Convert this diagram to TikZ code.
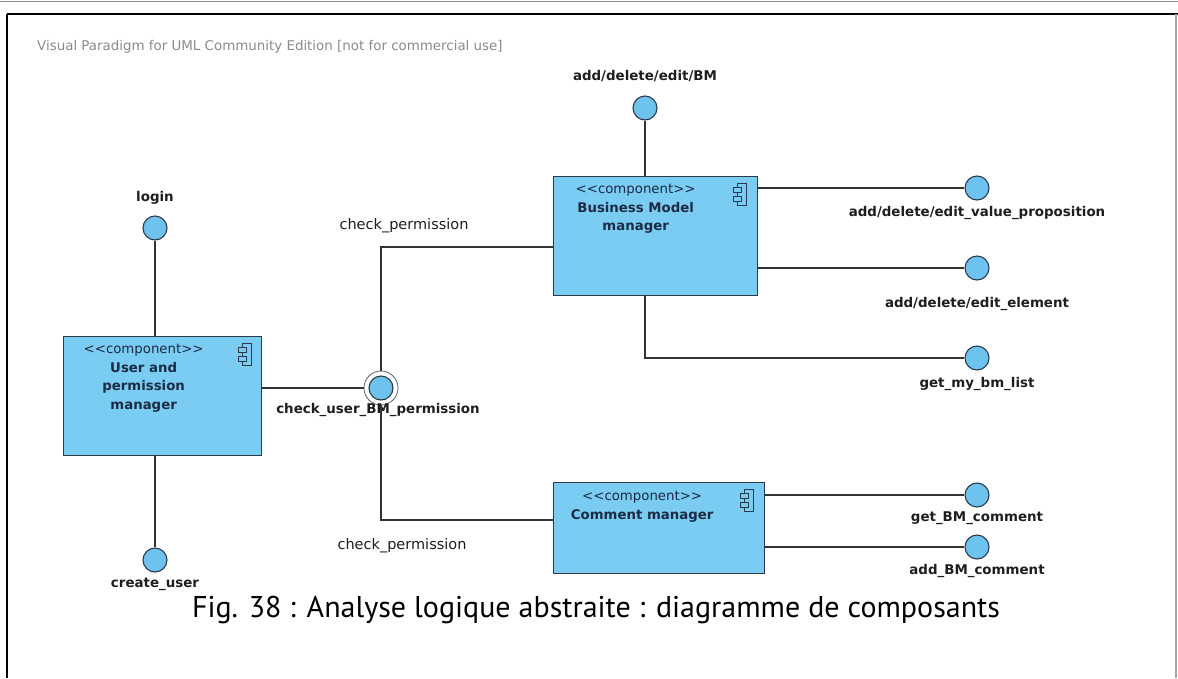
\documentclass[tikz,border=0pt]{standalone}
\usepackage{fontspec}
\setmainfont{DejaVu Sans}
\newfontfamily\capfont{PT Sans}
\usetikzlibrary{calc}
\definecolor{compfill}{HTML}{7ACCF2}
\definecolor{compline}{HTML}{2B3A4A}
\definecolor{ballfill}{HTML}{6EC3EE}
\definecolor{labeltext}{HTML}{1E1E1E}
\definecolor{comptext}{HTML}{1B2B44}
\definecolor{markgray}{HTML}{8A8A8A}
\newcommand{\stereo}{{<}{<}component{>}{>}}
\begin{document}
\begin{tikzpicture}[x=1pt,y=-1pt,
  comp/.style={draw=compline, line width=1.3pt, fill=compfill, inner sep=0pt, anchor=north west},
  comptxt/.style={anchor=north, align=center, inner sep=0pt, text=comptext,
    font=\fontsize{13.3}{18.5}\selectfont},
  ball/.style={circle, draw=compline, line width=1.1pt, fill=ballfill, minimum size=24pt, inner sep=0pt},
  socket/.style={circle, draw=compline!80, line width=0.8pt, fill=white, minimum size=34pt, inner sep=0pt},
  lbl/.style={font=\fontsize{13.4}{15}\selectfont\bfseries, text=labeltext, inner sep=1pt},
  plain/.style={font=\fontsize{14.5}{16}\selectfont, text=labeltext, inner sep=1pt},
  wire/.style={draw=black!80, line width=1.1pt},
  compicon/.pic={
    \draw[compline, line width=0.9pt, fill=compfill] (-3,-11) rectangle (6,11);
    \draw[compline, line width=0.9pt, fill=compfill] (-7,-7) rectangle (1,-2);
    \draw[compline, line width=0.9pt, fill=compfill] (-7,2) rectangle (1,7);
  }]
\useasboundingbox (0,0) rectangle (1178,678);

% page frame
\draw[black!45, line width=1.2pt] (0,1.5) -- (1178,1.5);
\draw[black, line width=1.6pt] (6.5,14) -- (1178,14);
\draw[black, line width=2pt] (6.5,14) -- (6.5,678);
\draw[black!35, line width=1.2pt] (1176,14) -- (1176,678);

% watermark
\node[anchor=west, inner sep=0pt, text=markgray, font=\fontsize{13.4}{15}\selectfont]
  (wm) at (37,47) {Visual Paradigm for UML Community Edition [not for commercial use]};

% components
\node[comp, minimum width=198pt, minimum height=119pt] (um) at (63,336) {};
\node[comp, minimum width=204pt, minimum height=119pt] (bm) at (553,176) {};
\node[comp, minimum width=211pt, minimum height=91pt] (cm) at (553,482) {};

\pic at ($(um.north east)+(-17,18)$) {compicon};
\pic at ($(bm.north east)+(-18,18)$) {compicon};
\pic at ($(cm.north east)+(-18,18)$) {compicon};

\node[comptxt] (umt) at ($(um.north)+(-19,8)$) {\stereo\\ \textbf{User and}\\ \textbf{permission}\\ \textbf{manager}};
\node[comptxt] (bmt) at ($(bm.north)+(-20,8)$) {\stereo\\ \textbf{Business Model}\\ \textbf{manager}};
\node[comptxt] (cmt) at ($(cm.north)+(-17,9)$) {\stereo\\ \textbf{Comment manager}};

% interfaces
\node[ball] (login) at (155,228) {};
\node[ball] (create) at (155,560) {};
\node[ball] (bmedit) at (645,108) {};
\node[ball] (vp) at (977,188) {};
\node[ball] (el) at (977,268) {};
\node[ball] (list) at (977,358) {};
\node[ball] (gc) at (977,495) {};
\node[ball] (ac) at (977,547) {};
\node[socket] (cksock) at (381,388) {};
\node[ball] (ck) at (381,388) {};

% interface labels
\node[lbl] at (155,198) {login};
\node[lbl] at (155,584) {create\_user};
\node[lbl] at (645,76) {add/delete/edit/BM};
\node[lbl] at (977,213) {add/delete/edit\_value\_proposition};
\node[lbl] at (977,304) {add/delete/edit\_element};
\node[lbl] at (977,384) {get\_my\_bm\_list};
\node[lbl] at (977,518) {get\_BM\_comment};
\node[lbl] at (977,571) {add\_BM\_comment};
\node[lbl] at (378,410) {check\_user\_BM\_permission};
\node[plain] at (404,226) {check\_permission};
\node[plain] at (402,546) {check\_permission};

% connectors
\draw[wire] (login.south) -- (login.south |- um.north);
\draw[wire] (create.north) -- (create.north |- um.south);
\draw[wire] (um.east |- ck) -- (cksock.west);
\draw[wire] (cksock.north) |- ($(bm.north west)+(0,71)$);
\draw[wire] (cksock.south) |- ($(cm.north west)+(0,38)$);
\draw[wire] (bmedit.south) -- (bmedit.south |- bm.north);
\draw[wire] (bm.east |- vp) -- (vp.west);
\draw[wire] (bm.east |- el) -- (el.west);
\draw[wire] (bmedit |- bm.south) |- (list.west);
\draw[wire] (cm.east |- gc) -- (gc.west);
\draw[wire] (cm.east |- ac) -- (ac.west);

% caption
\node[inner sep=0pt, font=\capfont\fontsize{30}{33}\selectfont] (cap) at (596,610)
  {Fig. 38 : Analyse logique abstraite : diagramme de composants};
\end{tikzpicture}
\end{document}
